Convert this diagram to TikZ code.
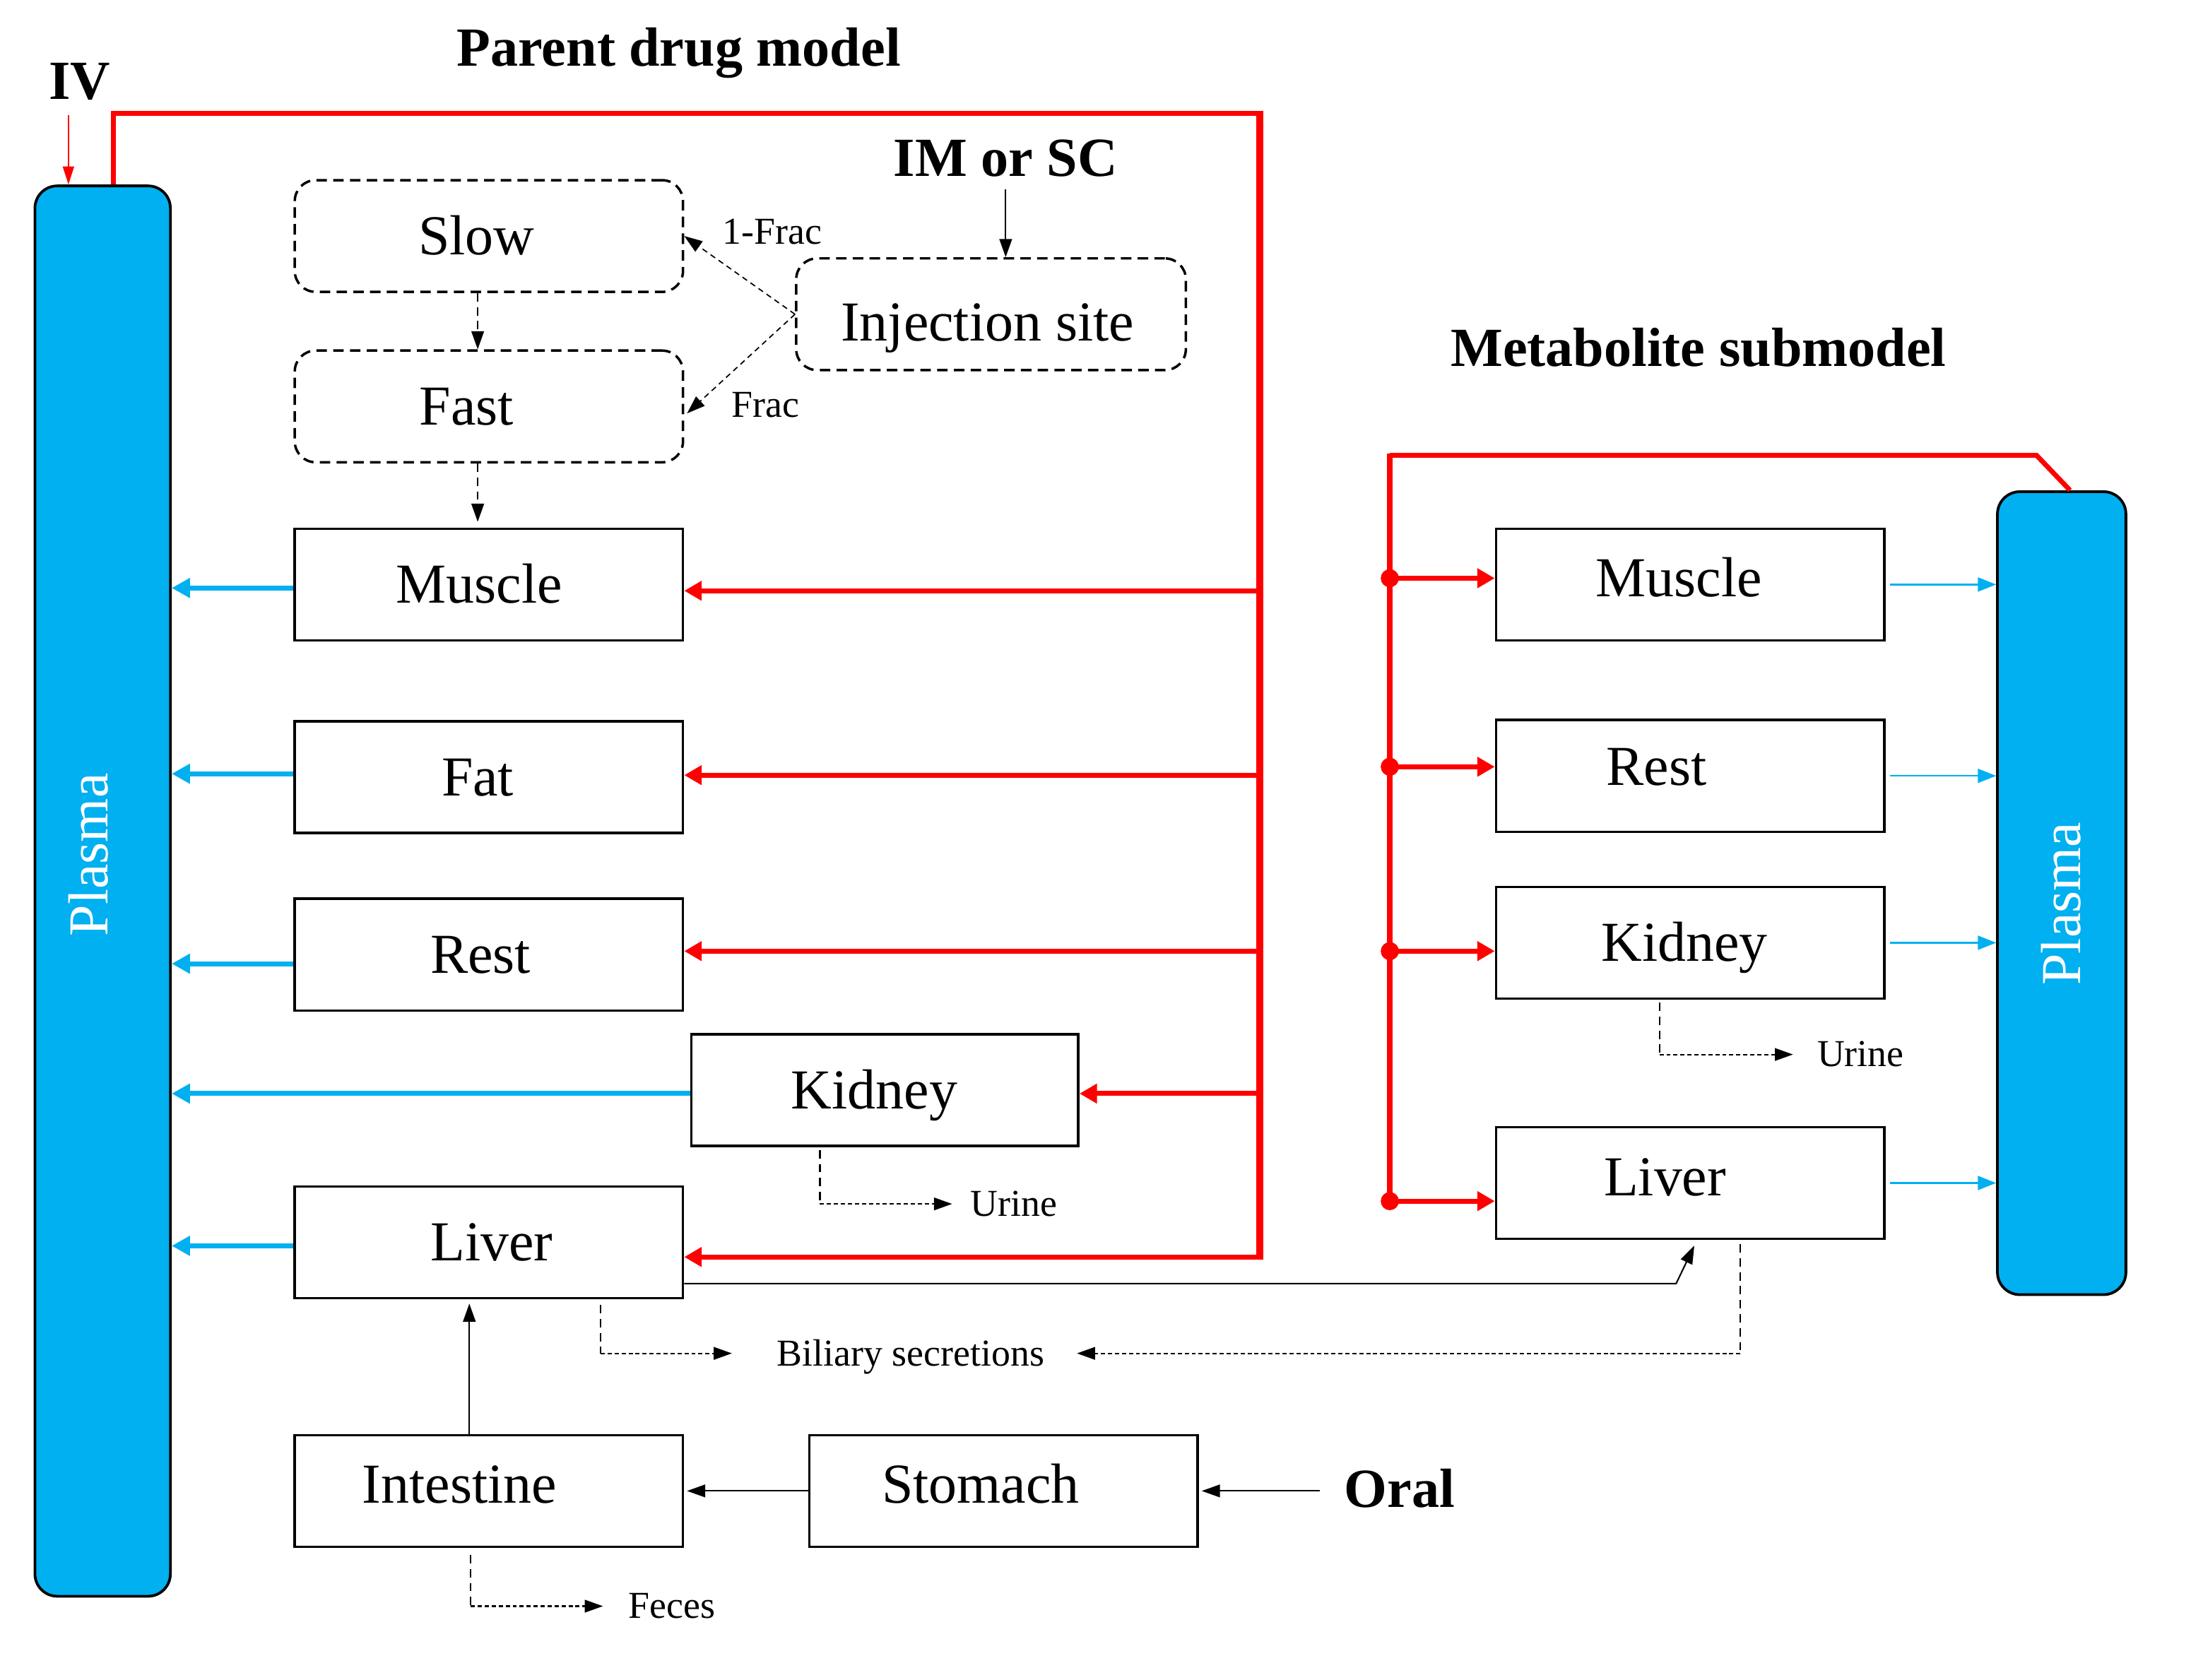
\documentclass[tikz,border=0pt]{standalone}
\usepackage{fontspec}
\setmainfont{Liberation Serif}
\usetikzlibrary{arrows.meta}
\definecolor{plasmablue}{RGB}{0,176,240}
\definecolor{pred}{RGB}{255,0,0}
\newcommand\fbig{\fontsize{23}{27}\selectfont}
\newcommand\fsmall{\fontsize{15.5}{18}\selectfont}
\newcommand\ftitle{\fontsize{22.5}{27}\selectfont\bfseries}
\tikzset{
 box/.style={draw, line width=1pt, minimum width=5.56cm, minimum height=1.6cm, inner sep=0pt},
 dbox/.style={box, rounded corners=0.3cm, dash pattern=on 0.15cm off 0.09cm},
 lab/.style={font=\fbig, inner sep=0pt, text height=15pt, text depth=0pt},
 plasma/.style={draw, line width=1.1pt, fill=plasmablue, rounded corners=0.32cm, inner sep=0pt},
 plasmatext/.style={rotate=90, text=white, font=\fbig, inner sep=0pt, text height=15pt, text depth=0pt},
 title/.style={font=\ftitle, inner sep=0pt, text height=15pt, text depth=0pt},
 small/.style={font=\fsmall, inner sep=0pt, text height=10pt, text depth=0pt},
 redline/.style={draw=pred, line width=2pt},
 redarrow/.style={draw=pred, line width=2pt, -{Triangle[length=0.25cm,width=0.27cm]}},
 redthin/.style={draw=pred, line width=0.7pt, -{Triangle[length=0.26cm,width=0.16cm]}},
 bluearrow/.style={draw=plasmablue, line width=2pt, -{Triangle[length=0.26cm,width=0.27cm]}},
 bluethin/.style={draw=plasmablue, line width=0.7pt, -{Triangle[length=0.26cm,width=0.2cm]}},
 blackarrow/.style={draw, line width=0.6pt, -{Triangle[length=0.26cm,width=0.18cm]}},
 dasharrow/.style={draw, line width=0.6pt, dash pattern=on 0.12cm off 0.08cm, -{Triangle[length=0.26cm,width=0.18cm]}},
 dashthin/.style={draw, line width=0.5pt, dash pattern=on 0.08cm off 0.06cm, -{Triangle[length=0.26cm,width=0.18cm]}},
 dashv/.style={draw, line width=0.6pt, dash pattern=on 0.12cm off 0.08cm},
 doth/.style={draw, line width=0.6pt, dash pattern=on 0.06cm off 0.04cm, -{Triangle[length=0.26cm,width=0.18cm]}}
}
\begin{document}
\begin{tikzpicture}[x=0.02cm, y=-0.02cm]
\path[use as bounding box, fill=white] (0,0) rectangle (1568.6,1202.4);

% plasma compartments
\node[plasma, minimum width=1.94cm, minimum height=20.2cm] (plaL) at (73.5,638) {};
\node[plasmatext] (plaLt) at (64,612) {Plasma};
\node[plasma, minimum width=1.84cm, minimum height=11.5cm] (plaR) at (1476,639.5) {};
\node[plasmatext] (plaRt) at (1476,647) {Plasma};

% titles
\node[title] (ttlP) at (486,34) {Parent drug model};
\node[title] (ttlM) at (1216,249) {Metabolite submodel};
\node[title] (iv) at (57,58) {IV};
\node[title] (imsc) at (720,113) {IM or SC};
\node[title] (oral) at (1002,1066) {Oral};

% parent boxes
\node[dbox, label={[lab, xshift=-0.18cm]center:Slow}] (slow) at (350,169) {};
\node[dbox, label={[lab, xshift=-0.32cm]center:Fast}] (fast) at (350,291) {};
\node[dbox, minimum width=5.58cm, label={[lab, xshift=-0.05cm, yshift=-0.12cm]center:Injection site}] (inj) at (709.5,225) {};
\node[box, label={[lab, xshift=-0.14cm]center:Muscle}] (muscle) at (350,418.5) {};
\node[box, label={[lab, xshift=-0.16cm]center:Fat}] (fat) at (350,556.5) {};
\node[box, label={[lab, xshift=-0.12cm]center:Rest}] (rest) at (350,683.5) {};
\node[box, minimum width=5.54cm, label={[lab, xshift=-0.15cm]center:Kidney}] (kidney) at (633.5,780.5) {};
\node[box, label={[lab, xshift=0.04cm]center:Liver}] (liver) at (350,889.5) {};
\node[box, label={[lab, xshift=-0.42cm, yshift=0.09cm]center:Intestine}] (intestine) at (350,1067.5) {};
\node[box, label={[lab, xshift=-0.33cm, yshift=0.09cm]center:Stomach}] (stomach) at (718.5,1067.5) {};

% metabolite boxes
\node[box, label={[lab, xshift=-0.16cm, yshift=0.09cm]center:Muscle}] (mmuscle) at (1210,418.5) {};
\node[box, label={[lab, xshift=-0.48cm, yshift=0.13cm]center:Rest}] (mrest) at (1210,555.5) {};
\node[box, label={[lab, xshift=-0.08cm]center:Kidney}] (mkidney) at (1210,675) {};
\node[box, label={[lab, xshift=-0.36cm, yshift=0.08cm]center:Liver}] (mliver) at (1210,847) {};

% small labels
\node[small] (frac1) at (553,166) {1-Frac};
\node[small] (frac2) at (548,290) {Frac};
\node[small] (urine1) at (726,862) {Urine};
\node[small] (urine2) at (1332,755) {Urine};
\node[small] (bile) at (652,969) {Biliary secretions};
\node[small] (feces) at (481,1150) {Feces};

% IV and IM/SC inputs
\coordinate (ivp) at ([xshift=-0.16cm,yshift=-0.22cm]iv.south);
\draw[redthin] (ivp) -- (ivp |- plaL.north);
\draw[blackarrow] ([yshift=-0.18cm]imsc.south) -- (inj.north -| imsc.south);

% injection site routes
\draw[dashthin] (inj.west) -- (slow.east);
\draw[dashthin] (inj.west) -- ([xshift=0.04cm,yshift=-0.1cm]fast.east);
\draw[dasharrow] ([xshift=-0.16cm]slow.south) -- ([xshift=-0.16cm]fast.north);
\draw[dasharrow] ([xshift=-0.16cm]fast.south) -- ([xshift=-0.16cm,yshift=0.08cm]muscle.north);

% arterial red supply (parent)
\coordinate (rTL) at (81,81);
\coordinate (rTR) at (902,81);
\coordinate (rBR) at (902,900);
\draw[redarrow] (plaL.north -| rTL) -- (rTL) -- (rTR) -- (rBR) -- (liver.east |- rBR);
\draw[draw=pred, line width=2.85pt] ([yshift=0.035cm]rTR) -- ([yshift=-0.035cm]rBR);
\coordinate (pm) at ([yshift=-0.09cm]muscle.east);
\coordinate (pf) at ([yshift=0.03cm]fat.east);
\coordinate (pr) at ([yshift=0.05cm]rest.east);
\coordinate (pk) at ([yshift=-0.05cm]kidney.east);
\foreach \p in {pm,pf,pr,pk} \draw[redarrow] (\p -| rTR) -- (\p);

% venous blue return (parent)
\draw[bluearrow] ([yshift=-0.05cm]muscle.west) -- ([yshift=-0.05cm]muscle.west -| plaL.east);
\draw[bluearrow] ([yshift=0.05cm]fat.west) -- ([yshift=0.05cm]fat.west -| plaL.east);
\draw[bluearrow] ([yshift=-0.13cm]rest.west) -- ([yshift=-0.13cm]rest.west -| plaL.east);
\draw[bluearrow] ([yshift=-0.05cm]kidney.west) -- ([yshift=-0.05cm]kidney.west -| plaL.east);
\draw[bluearrow] ([yshift=-0.05cm]liver.west) -- ([yshift=-0.05cm]liver.west -| plaL.east);

% metabolite red supply
\coordinate (mTop) at (995,326);
\coordinate (mBend) at (1458,326);
\coordinate (mBot) at (995,860);
\draw[redline] (mTop) -- (mBend) -- ([xshift=0.12cm]plaR.north);
\draw[draw=pred, line width=2.3pt] ([yshift=0.03cm]mTop) -- (mBot);
\coordinate (qm) at ([yshift=0.09cm]mmuscle.west);
\coordinate (qr) at ([yshift=0.13cm]mrest.west);
\coordinate (qk) at ([yshift=-0.12cm]mkidney.west);
\coordinate (ql) at (mliver.west |- mBot);
\foreach \p in {qm,qr,qk} {
  \fill[pred] (mTop |- \p) circle (0.13cm);
  \draw[redarrow] (mTop |- \p) -- (\p);
}
\fill[pred] (mBot) circle (0.13cm);
\draw[redarrow] (mBot) -- (ql);

% metabolite blue return
\foreach \n in {mmuscle,mrest,mkidney,mliver} \draw[bluethin] ([xshift=0.06cm]\n.east) -- (\n.east -| plaR.west);

% liver to metabolite liver
\coordinate (lm) at (1200,919);
\draw[blackarrow] (liver.east |- lm) -- (lm) -- ([xshift=0.06cm,yshift=-0.08cm]mliver.south);

% GI tract
\draw[blackarrow] ([xshift=-0.28cm]intestine.north) -- ([xshift=-0.28cm,yshift=-0.06cm]liver.south);
\draw[blackarrow] (stomach.west) -- ([xshift=0.04cm]intestine.east);
\coordinate (oralp) at ([xshift=-0.34cm]oral.west);
\draw[blackarrow] (oralp |- stomach.east) -- ([xshift=0.04cm]stomach.east);

% excretion routes
\draw[dashv] ([xshift=-0.93cm,yshift=-0.04cm]kidney.south) coordinate (k0) -- (k0 |- urine1.west) coordinate (k1);
\draw[doth] (k1) -- ([xshift=-0.26cm]urine1.west);
\draw[dashv] ([xshift=-0.44cm,yshift=-0.04cm]mkidney.south) coordinate (q0) -- (q0 |- urine2.west) coordinate (q1);
\draw[doth] (q1) -- ([xshift=-0.34cm]urine2.west);
\draw[dashv] ([xshift=1.6cm,yshift=-0.08cm]liver.south) coordinate (b0) -- (b0 |- bile.west) coordinate (b1);
\draw[doth] (b1) -- ([xshift=-0.64cm]bile.west);
\draw[dashv] ([xshift=0.72cm,yshift=-0.06cm]mliver.south) coordinate (c0) -- (c0 |- bile.east) coordinate (c1);
\draw[doth] (c1) -- ([xshift=0.46cm]bile.east);
\draw[dashv] ([xshift=-0.26cm,yshift=-0.1cm]intestine.south) coordinate (f0) -- (f0 |- feces.west) coordinate (f1);
\draw[doth] (f1) -- ([xshift=-0.36cm]feces.west);
\end{tikzpicture}
\end{document}
